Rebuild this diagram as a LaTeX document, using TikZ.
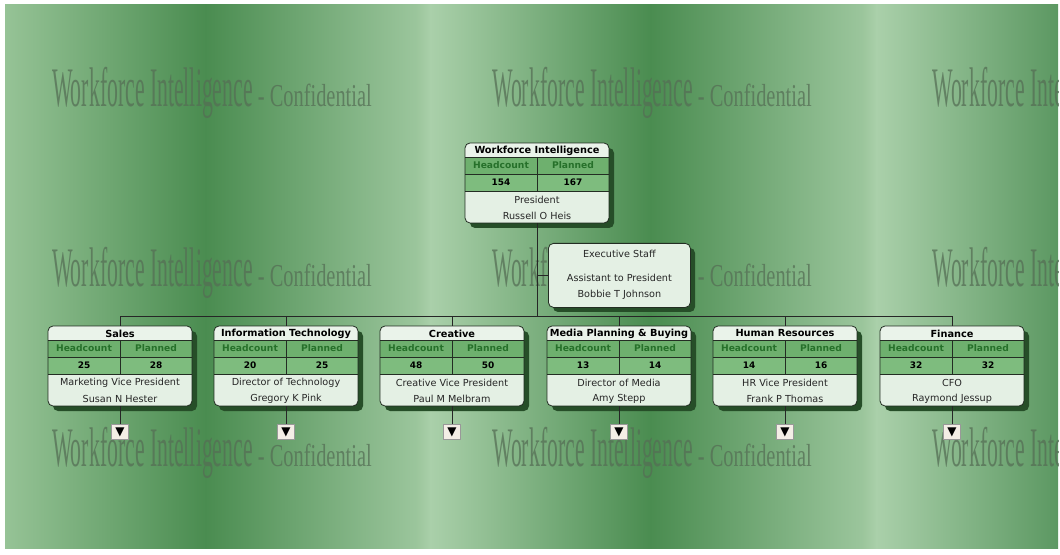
\documentclass[tikz,border=0pt]{standalone}
\usepackage{fontspec}
\usepackage{graphicx}
\setmainfont{DejaVu Sans}
\newfontfamily\wmfont{Liberation Serif}
\usetikzlibrary{calc}
\definecolor{bgL}{RGB}{170,208,170}
\definecolor{bgA}{RGB}{150,195,150}
\definecolor{bgD}{RGB}{74,140,80}
\definecolor{bgE}{RGB}{92,152,98}
\definecolor{wmc}{RGB}{85,110,85}
\definecolor{titlec}{RGB}{234,243,234}
\definecolor{hdrc}{RGB}{110,176,110}
\definecolor{numc}{RGB}{126,188,126}
\definecolor{hdrtextc}{RGB}{38,112,42}
\definecolor{bodyc}{RGB}{228,240,228}
\definecolor{shadowc}{RGB}{38,78,40}
\definecolor{edgec}{RGB}{35,45,35}
\definecolor{btnc}{RGB}{244,238,230}
\tikzset{
  conn/.style={draw=black!85, line width=0.8bp},
  frame/.style={draw=edgec, line width=0.8bp, rounded corners=5bp},
  sepline/.style={draw=edgec, line width=0.6bp},
  titletext/.style={inner sep=0pt, font=\fontsize{9.8}{10}\selectfont\bfseries, text=black},
  hdrtext/.style={inner sep=0pt, font=\fontsize{9.2}{10}\selectfont\bfseries, text=hdrtextc},
  numtext/.style={inner sep=0pt, font=\fontsize{9}{10}\selectfont\bfseries, text=black},
  bodytext/.style={inner sep=0pt, font=\fontsize{9.7}{10}\selectfont, text=black!85},
  wm/.style={anchor=base west, inner sep=0pt, text=wmc, opacity=0.75},
  btn/.style={fill=btnc, draw=black!40, line width=0.4bp, minimum width=17bp, minimum height=15bp, inner sep=0pt, font=\fontsize{12}{12}\selectfont},
  holder/.style={anchor=north, minimum width=144bp, minimum height=80bp, inner sep=0pt, outer sep=0pt}
}
% #1 name, #2 cx, #3 top, #4 title, #5 headcount, #6 planned, #7 line1, #8 line2
\newcommand\orgbox[8]{%
  \fill[shadowc, rounded corners=5bp] (#2-72+5,#3+5) rectangle (#2+72+5,#3+85);
  \node[holder] (#1) at (#2,#3) {};
  \begin{scope}
    \clip[rounded corners=5bp] (#1.north west) rectangle (#1.south east);
    \fill[titlec] (#1.north west) rectangle ([yshift=-14bp]#1.north east);
    \fill[hdrc] ([yshift=-14bp]#1.north west) rectangle ([yshift=-31bp]#1.north east);
    \fill[numc] ([yshift=-31bp]#1.north west) rectangle ([yshift=-48bp]#1.north east);
    \fill[bodyc] ([yshift=-48bp]#1.north west) rectangle (#1.south east);
  \end{scope}
  \draw[sepline] ([yshift=-14bp]#1.north west) -- ([yshift=-14bp]#1.north east);
  \draw[sepline] ([yshift=-31bp]#1.north west) -- ([yshift=-31bp]#1.north east);
  \draw[sepline] ([yshift=-48bp]#1.north west) -- ([yshift=-48bp]#1.north east);
  \draw[sepline] ([yshift=-14bp]#1.north) -- ([yshift=-48bp]#1.north);
  \draw[frame] (#1.north west) rectangle (#1.south east);
  \node[titletext] (#1-t) at ([yshift=-7.5bp]#1.north) {#4};
  \node[hdrtext] (#1-h) at ([xshift=-36bp,yshift=-22.5bp]#1.north) {Headcount};
  \node[hdrtext] (#1-p) at ([xshift=36bp,yshift=-22.5bp]#1.north) {Planned};
  \node[numtext] (#1-hn) at ([xshift=-36bp,yshift=-39.5bp]#1.north) {#5};
  \node[numtext] (#1-pn) at ([xshift=36bp,yshift=-39.5bp]#1.north) {#6};
  \node[bodytext] (#1-l1) at ([yshift=-57bp]#1.north) {#7};
  \node[bodytext] (#1-l2) at ([yshift=-73bp]#1.north) {#8};
}
\begin{document}
\begin{tikzpicture}[x=1bp,y=-1bp]
\useasboundingbox (0,0) rectangle (1060,555);
\fill[white] (0,0) rectangle (1060,555);
% background bands
\shade[left color=bgA, right color=bgD] (5,5) rectangle (206,548);
\shade[left color=bgD, right color=bgL!85!bgD] (205,5) rectangle (418,548);
\shade[left color=bgL!85!bgD, right color=bgL] (417,5) rectangle (431,548);
\shade[left color=bgL, right color=bgD] (430,5) rectangle (651,548);
\shade[left color=bgD, right color=bgL!85!bgD] (650,5) rectangle (864,548);
\shade[left color=bgL!85!bgD, right color=bgL] (863,5) rectangle (877,548);
\shade[left color=bgL, right color=bgE] (876,5) rectangle (1058,548);
% watermark
\begin{scope}
\clip (5,5) rectangle (1058,548);
\foreach \r/\yy in {1/107,2/287,3/466}{
  \foreach \c/\xx in {1/52,2/492,3/932}{
    \node[wm] (wm\r\c) at (\xx,\yy) {\wmfont\scalebox{0.39}[1]{\fontsize{56}{56}\selectfont Workforce Intelligence}\scalebox{0.64}[1]{\fontsize{32}{32}\selectfont\ - Confidential}};
  }
}
\end{scope}
% boxes
\orgbox{top}{537}{143}{Workforce Intelligence}{154}{167}{President}{Russell O Heis}
\orgbox{sales}{120}{326}{Sales}{25}{28}{Marketing Vice President}{Susan N Hester}
\orgbox{it}{286}{326}{Information Technology}{20}{25}{Director of Technology}{Gregory K Pink}
\orgbox{creative}{452}{326}{Creative}{48}{50}{Creative Vice President}{Paul M Melbram}
\orgbox{media}{619}{326}{Media Planning \& Buying}{13}{14}{Director of Media}{Amy Stepp}
\orgbox{hr}{785}{326}{Human Resources}{14}{16}{HR Vice President}{Frank P Thomas}
\orgbox{finance}{952}{326}{Finance}{32}{32}{CFO}{Raymond Jessup}
% executive staff box
\fill[shadowc, rounded corners=5bp] (553,248) rectangle (695,312);
\node[draw=edgec, line width=0.8bp, rounded corners=5bp, fill=bodyc, minimum width=142bp, minimum height=64bp, inner sep=0pt, anchor=north west] (exec) at (548,243) {};
\node[bodytext] (exec-t) at ([yshift=-11bp]exec.north) {Executive Staff};
\node[bodytext] (exec-l1) at ([yshift=-35bp]exec.north) {Assistant to President};
\node[bodytext] (exec-l2) at ([yshift=-52bp]exec.north) {Bobbie T Johnson};
% connectors
\draw[conn] (top.south) -- ([yshift=10bp]top.south |- sales.north);
\draw[conn] (exec.west) -- (exec.west -| top.south);
\draw[conn] (sales.north) -- ++(0,-10) -| (finance.north);
\foreach \n in {it,creative,media,hr}{
  \draw[conn] (\n.north) -- ++(0,-10);
}
% expand buttons
\foreach \n in {sales,it,creative,media,hr,finance}{
  \node[btn] (\n-b) at ([yshift=-26bp]\n.south) {▼};
  \draw[conn] (\n.south) -- (\n-b.north);
}
\end{tikzpicture}
\end{document}
